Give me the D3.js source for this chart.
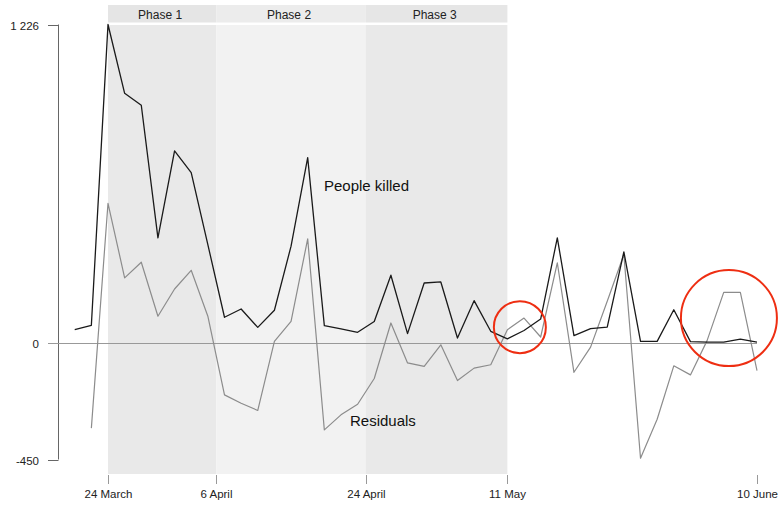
<!DOCTYPE html>
<html><head><meta charset="utf-8">
<script src="https://cdn.jsdelivr.net/npm/d3@7"></script>
<style>
html,body{margin:0;padding:0;background:#fff;}
svg{display:block;font-family:"Liberation Sans",Arial,Helvetica,sans-serif;}
</style></head>
<body><svg id="c" width="778" height="505"></svg>
<script>
const startDate = "2020-03-20";
const stepDays = 2;
const killed = [50,67,1226,961,915,404,739,655,378,98,130,59,125,372,713,66,53,40,82,260,35,230,234,18,162,44,15,47,91,404,27,54,60,350,5,5,127,4,2,2,14,2];
const residuals = [null,-329,537,250,310,102,207,279,102,-201,-233,-261,5,82,400,-336,-278,-237,-138,76,-78,-91,-8,-146,-98,-85,50,95,22,308,-114,-17,160,340,-445,-295,-89,-124,8,194,194,-108];
const phaseNames = ["Phase 1","Phase 2","Phase 3"];
const phaseStarts = ["2020-03-24","2020-04-06","2020-04-24"];
const phaseEnds = ["2020-04-06","2020-04-24","2020-05-11"];
const xTickDates = ["2020-03-24","2020-04-06","2020-04-24","2020-05-11","2020-06-10"];
const xTickLabels = ["24 March","6 April","24 April","11 May","10 June"];
const yTicks = [-450,0,1226];
const yTickLabels = ["-450","0","1 226"];
const highlightDates = ["2020-05-12T12","2020-06-06T15"];
const highlightValues = [60,95];
const highlightRadii = [26,48];

const parse = d3.utcParse("%Y-%m-%d");
const parseH = d3.utcParse("%Y-%m-%dT%H");
const t0 = parse(startDate);
const dates = killed.map((_, i) => d3.utcDay.offset(t0, i * stepDays));

const svg = d3.select("#c");
const x = d3.scaleUtc().domain([parse("2020-03-24"), parse("2020-06-10")]).range([108, 757]);
const y = d3.scaleLinear().domain([-450, 1226]).range([459.5, 24.5]);

// phases
const phaseFill = ["#e9e9e9","#f2f2f2","#e9e9e9"];
const headFill = ["#e5e5e5","#ececec","#e6e6e6"];
phaseNames.forEach((p, i) => {
  const x0 = x(parse(phaseStarts[i])), x1 = x(parse(phaseEnds[i]));
  svg.append("rect").attr("x", x0).attr("y", 25).attr("width", x1 - x0).attr("height", 474 - 25).attr("fill", phaseFill[i]);
  svg.append("rect").attr("x", x0).attr("y", 5).attr("width", x1 - x0).attr("height", 17.5).attr("fill", headFill[i]);
  svg.append("text").attr("x", (x0 + x1) / 2 - 2).attr("y", 18.5).attr("text-anchor", "middle")
    .attr("font-size", 12).attr("fill", "#222").text(p);
});

// y axis
svg.append("line").attr("x1", 58.5).attr("x2", 58.5).attr("y1", y(1226)).attr("y2", y(-450)).attr("stroke", "#666").attr("stroke-width", 1);
yTicks.forEach((v, i) => {
  const yy = Math.round(y(v)) + 0.5;
  svg.append("line").attr("x1", 48).attr("x2", 58.5).attr("y1", yy).attr("y2", yy).attr("stroke", "#666");
  svg.append("text").attr("x", 39).attr("y", yy).attr("dy", "0.35em").attr("text-anchor", "end")
    .attr("font-size", 11.5).attr("fill", "#222").text(yTickLabels[i]);
});
// zero line
svg.append("line").attr("x1", 48).attr("x2", x(dates[dates.length - 1])).attr("y1", Math.round(y(0)) + 0.5).attr("y2", Math.round(y(0)) + 0.5)
  .attr("stroke", "#999").attr("stroke-width", 1);

// x ticks
xTickDates.forEach((d, i) => {
  const xx = Math.round(x(parse(d))) + 0.5;
  svg.append("line").attr("x1", xx).attr("x2", xx).attr("y1", 475).attr("y2", 484).attr("stroke", "#999");
  svg.append("text").attr("x", xx).attr("y", 498).attr("text-anchor", "middle")
    .attr("font-size", 11.5).attr("fill", "#222").text(xTickLabels[i]);
});

// lines
const line = d3.line().defined(d => d[1] != null).x(d => x(d[0])).y(d => y(d[1]));
svg.append("path").datum(dates.map((d, i) => [d, residuals[i]])).attr("d", line)
  .attr("fill", "none").attr("stroke", "#8c8c8c").attr("stroke-width", 1.2).attr("stroke-linejoin", "round");
svg.append("path").datum(dates.map((d, i) => [d, killed[i]])).attr("d", line)
  .attr("fill", "none").attr("stroke", "#1a1a1a").attr("stroke-width", 1.3).attr("stroke-linejoin", "round");

// labels
svg.append("text").attr("x", 324).attr("y", 191).attr("font-size", 15).attr("fill", "#111").text("People killed");
svg.append("text").attr("x", 350).attr("y", 426).attr("font-size", 15).attr("fill", "#111").text("Residuals");

// highlight circles
highlightDates.forEach((d, i) => {
  svg.append("circle").attr("cx", x(parseH(d))).attr("cy", y(highlightValues[i])).attr("r", highlightRadii[i])
    .attr("fill", "none").attr("stroke", "#ee2e12").attr("stroke-width", 2);
});
</script></body></html>
